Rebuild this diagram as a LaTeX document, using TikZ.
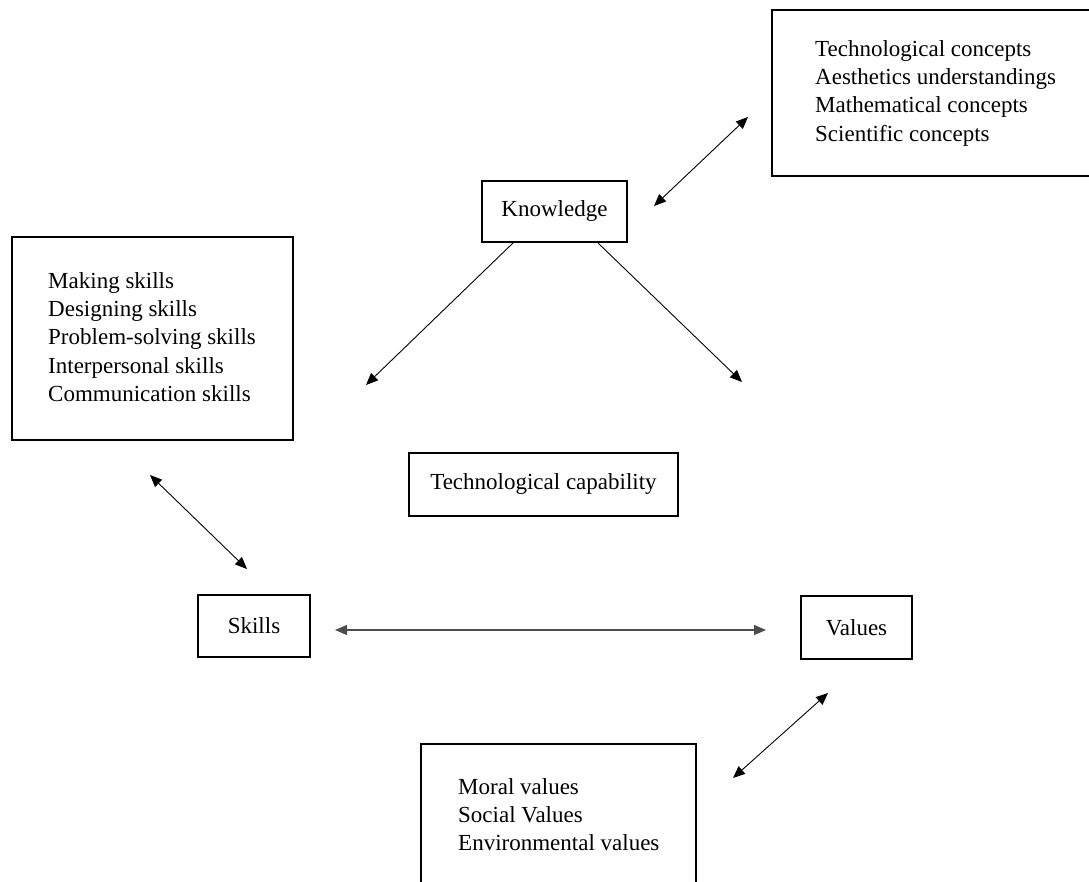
\documentclass[tikz,border=0pt]{standalone}
\usepackage{fontspec}
\setmainfont{Liberation Serif}
\usetikzlibrary{arrows.meta}
\tikzset{
  box/.style={draw=black, line width=1.8pt, rectangle, inner sep=0pt},
  lst/.style={anchor=north west, inner sep=0pt, align=left, font=\fontsize{23}{28.3}\selectfont},
  lbl/.style={inner sep=0pt, font=\fontsize{23}{28.3}\selectfont},
  conn/.style={line width=0.9pt, -{Triangle[length=12pt,width=10pt]}},
  dconn/.style={line width=0.9pt, {Triangle[length=12pt,width=10pt]}-{Triangle[length=12pt,width=10pt]}},
}
\newcommand{\fst}{\rule{0pt}{17pt}}
\begin{document}
\begin{tikzpicture}[x=1pt,y=-1pt]
\useasboundingbox (0,0) rectangle (1089,882);
\clip (0,0) rectangle (1089,882);
% boxes
\node[box, minimum width=330pt, minimum height=166pt] (tr) at (937,93) {};
\node[box, minimum width=145pt, minimum height=61pt] (kn) at (554.5,211.5) {};
\node[box, minimum width=281pt, minimum height=203pt] (lb) at (152.5,338.5) {};
\node[box, minimum width=269pt, minimum height=63pt] (tc) at (543.5,484.5) {};
\node[box, minimum width=112pt, minimum height=62pt] (sk) at (254,626) {};
\node[box, minimum width=111pt, minimum height=63pt] (va) at (856.5,627.5) {};
\node[box, minimum width=275pt, minimum height=180pt] (bb) at (558.5,834) {};
% texts
\node[lst] (trt) at (815,39) {\fst Technological concepts\\Aesthetics understandings\\Mathematical concepts\\Scientific concepts};
\node[lst] (lbt) at (48,271) {\fst Making skills\\Designing skills\\Problem-solving skills\\Interpersonal skills\\Communication skills};
\node[lst] (bbt) at (458,777) {\fst Moral values\\Social Values\\Environmental values};
\node[lbl] (knt) at (kn.center) {Knowledge};
\node[lbl] (tct) at (tc.center) {Technological capability};
\node[lbl] (skt) at (sk.center) {Skills};
\node[lbl] (vat) at (va.center) {Values};
% connector end points
\coordinate (a1) at (654,206);
\coordinate (a2) at (748,117);
\coordinate (b1) at (513,243);
\coordinate (b2) at (366,385);
\coordinate (c1) at (598,243);
\coordinate (c2) at (742,382);
\coordinate (d1) at (150,475);
\coordinate (d2) at (247,569);
\coordinate (e1) at (335,630);
\coordinate (e2) at (766,630);
\coordinate (f1) at (733,778);
\coordinate (f2) at (828,693);
% connectors
\draw[dconn] (a1) -- (a2);
\draw[conn] (b1) -- (b2);
\draw[conn] (c1) -- (c2);
\draw[dconn] (d1) -- (d2);
\draw[dconn, draw=black!70, line width=1.2pt] (e1) -- (e2);
\draw[dconn] (f1) -- (f2);
\end{tikzpicture}
\end{document}
